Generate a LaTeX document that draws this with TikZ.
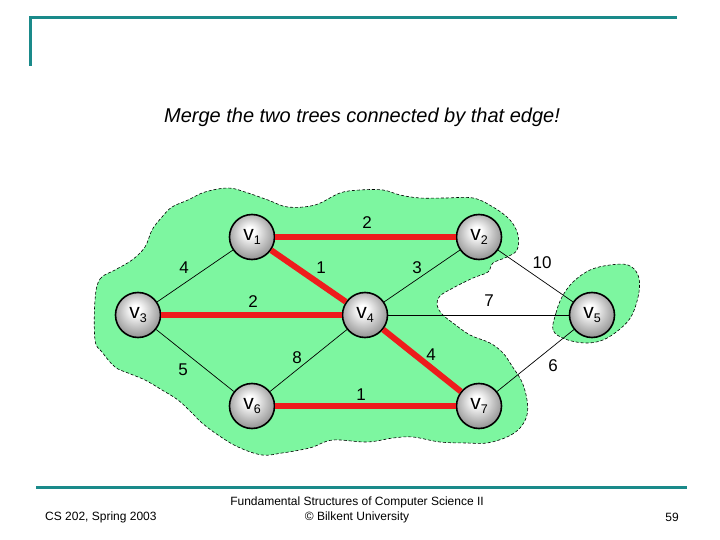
\documentclass[tikz,border=0pt]{standalone}
\usepackage{fontspec}
\setmainfont{Liberation Sans}
\definecolor{teal1}{RGB}{26,138,138}
\definecolor{blobgreen}{RGB}{125,246,160}
\definecolor{treered}{RGB}{238,28,28}
\pgfdeclareradialshading{vball}{\pgfpoint{-3bp}{7bp}}{color(0bp)=(white); color(5bp)=(white); color(18bp)=(black!24); color(28bp)=(black!42); color(50bp)=(black!42)}
\tikzset{
  vnode/.style={circle, draw=black, line width=1.6pt, minimum size=45pt, inner sep=0pt, shading=vball, font=\fontsize{21}{21}\selectfont},
  treeedge/.style={treered, line width=6pt},
  thinedge/.style={black, line width=0.7pt},
  wlabel/.style={font=\fontsize{17}{17}\selectfont, inner sep=0pt},
  blob/.style={fill=blobgreen, draw=black, line width=0.6pt, dash pattern=on 3pt off 2pt},
  rule/.style={teal1, line width=3pt},
  foot/.style={font=\fontsize{12}{14}\selectfont, inner sep=0pt}
}
\newcommand{\vlab}[1]{v\raisebox{-0.3ex}{\fontsize{12.5}{12.5}\selectfont #1}}
\begin{document}
\begin{tikzpicture}[x=1pt,y=-1pt]
\useasboundingbox (0,0) rectangle (720,540);
% slide rules
\coordinate (tl) at (30,18);
\coordinate (tr) at (677,18);
\coordinate (tb) at (30,66);
\draw[rule] (tr) -- (tl) -- (tb);
\coordinate (bl) at (36,487);
\coordinate (br) at (687,487);
\draw[rule] (bl) -- (br);
% title
\node[font=\fontsize{20}{20}\selectfont\itshape, inner sep=0pt] (title) at (362,117) {Merge the two trees connected by that edge!};
% blobs
\draw[blob] plot[smooth cycle, tension=0.6] coordinates {
(95,300) (100,279) (115,270) (132,260) (145,247) (152,230) (162,217) (172,207)
(188,200) (205,192) (228,188) (245,192) (268,200) (288,207) (315,205) (340,193)
(360,190) (383,190) (400,195) (420,198) (445,198) (473,198) (493,207) (510,220)
(518,235) (517,250) (507,257) (493,263) (488,272) (473,278) (453,288) (440,296)
(437,305) (442,314) (453,323) (470,335) (490,343) (503,353) (512,366) (522,382)
(527,400) (527,415) (520,428) (507,437) (487,443) (467,443) (440,442) (413,437)
(393,438) (367,442) (333,440) (313,447) (300,450) (282,453) (262,455) (238,447)
(218,435) (202,423) (192,413) (178,400) (162,390) (145,380) (128,373) (115,367)
(102,352) (95,340)};
\draw[blob] plot[smooth cycle, tension=0.6] coordinates {
(553,330) (556,313) (562,297) (573,282) (590,270) (610,265) (628,265) (638,275)
(639,292) (632,315) (620,329) (603,340) (585,343) (565,339)};
% nodes
\node[vnode] (v1) at (252,237) {\vlab{1}};
\node[vnode] (v2) at (479,237) {\vlab{2}};
\node[vnode] (v3) at (138,315) {\vlab{3}};
\node[vnode] (v4) at (365,315) {\vlab{4}};
\node[vnode] (v5) at (592,315) {\vlab{5}};
\node[vnode] (v6) at (252,406) {\vlab{6}};
\node[vnode] (v7) at (479,406) {\vlab{7}};
% edges
\draw[thinedge] (v1) -- (v3);
\draw[thinedge] (v2) -- (v4);
\draw[thinedge] (v2) -- (v5);
\draw[thinedge] (v4) -- (v5);
\draw[thinedge] (v3) -- (v6);
\draw[thinedge] (v6) -- (v4);
\draw[thinedge] (v7) -- (v5);
\draw[treeedge] (v1) -- (v2);
\draw[treeedge] (v1) -- (v4);
\draw[treeedge] (v3) -- (v4);
\draw[treeedge] (v4) -- (v7);
\draw[treeedge] (v6) -- (v7);
% weights
\node[wlabel] (w12) at (367,223) {2};
\node[wlabel] (w13) at (184,268) {4};
\node[wlabel] (w14) at (321,268) {1};
\node[wlabel] (w24) at (417,268) {3};
\node[wlabel] (w25) at (542,263) {10};
\node[wlabel] (w34) at (253,302) {2};
\node[wlabel] (w45) at (489,301) {7};
\node[wlabel] (w64) at (297,358) {8};
\node[wlabel] (w47) at (431,355) {4};
\node[wlabel] (w36) at (183,370) {5};
\node[wlabel] (w75) at (553,366) {6};
\node[wlabel] (w67) at (361,395) {1};
% footer
\node[foot, anchor=west] (f1) at (45,517) {CS 202, Spring 2003};
\node[foot] (f2) at (357,502) {Fundamental Structures of Computer Science II};
\node[foot] (f3) at (357,517) {© Bilkent University};
\node[foot] (f4) at (672,517) {59};
\end{tikzpicture}
\end{document}
